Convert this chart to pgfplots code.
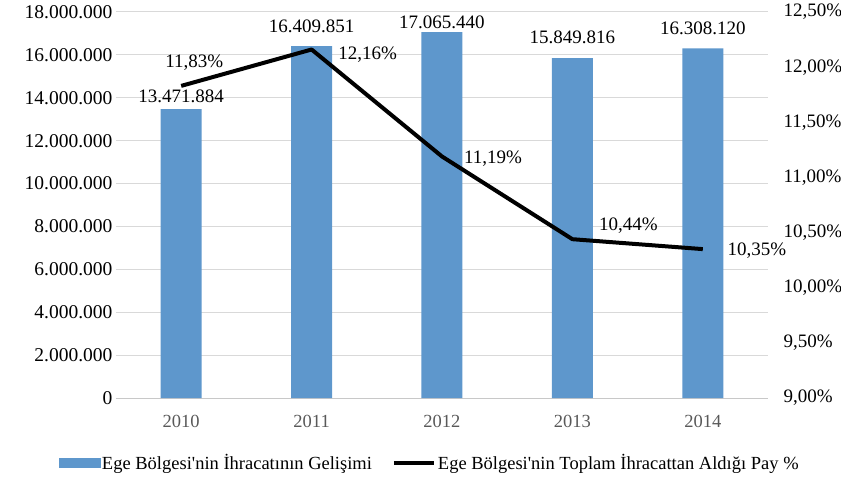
\documentclass[border=0pt]{standalone}
\usepackage{fontspec}
\setmainfont{Liberation Serif}[Ligatures=TeXOff]
\usepackage{pgfplots}
\pgfplotsset{compat=1.18}
\definecolor{barblue}{RGB}{94,151,204}
\definecolor{gridgray}{RGB}{217,217,217}
\definecolor{axisgray}{RGB}{200,200,200}
\definecolor{ticktext}{RGB}{89,89,89}
\newcommand{\lblfont}{\fontsize{19}{22}\selectfont}
\begin{document}
\begin{tikzpicture}
\begin{axis}[
  at={(0pt,0pt)}, anchor=south west,
  scale only axis, width=652pt, height=386pt,
  xmin=-0.5, xmax=4.5, ymin=0, ymax=18000000,
  xtick={0,1,2,3,4}, xticklabels={2010,2011,2012,2013,2014},
  ytick={0,2000000,4000000,6000000,8000000,10000000,12000000,14000000,16000000,18000000},
  yticklabels={0,2.000.000,4.000.000,6.000.000,8.000.000,10.000.000,12.000.000,14.000.000,16.000.000,18.000.000},
  scaled y ticks=false,
  axis lines*=left,
  y axis line style={draw=none},
  x axis line style={axisgray, line width=1pt},
  ymajorgrids, grid style={gridgray, line width=1pt},
  major tick length=0pt,
  yticklabel style={font=\fontsize{19.5}{22}\selectfont, xshift=0pt},
  xticklabel style={font=\fontsize{18.5}{20}\selectfont, text=ticktext, yshift=-14pt},
  clip=false,
]
\addplot[ybar, bar width=41pt, fill=barblue, draw=none] coordinates {
  (0,13471884) (1,16409851) (2,17065440) (3,15849816) (4,16308120)};
\node[font=\lblfont, yshift=13pt] at (axis cs:0,13471884) {13.471.884};
\node[font=\lblfont, yshift=20pt] at (axis cs:1,16409851) {16.409.851};
\node[font=\lblfont, yshift=10pt] at (axis cs:2,17065440) {17.065.440};
\node[font=\lblfont, yshift=21pt] at (axis cs:3,15849816) {15.849.816};
\node[font=\lblfont, yshift=20pt] at (axis cs:4,16308120) {16.308.120};
\end{axis}
\begin{axis}[
  at={(0pt,0pt)}, anchor=south west,
  scale only axis, width=652pt, height=386pt,
  xmin=-0.5, xmax=4.5, ymin=9, ymax=12.5,
  axis x line=none,
  axis y line*=right,
  y axis line style={draw=none},
  major tick length=0pt,
  ytick={9,9.5,10,10.5,11,11.5,12,12.5},
  yticklabels={{9,00\%},{9,50\%},{10,00\%},{10,50\%},{11,00\%},{11,50\%},{12,00\%},{12,50\%}},
  yticklabel style={font=\fontsize{19}{22}\selectfont, xshift=12pt},
  clip=false,
  legend columns=2,
  legend style={at={(0.481,-0.168)}, anchor=center, draw=none, fill=none,
    font=\fontsize{18.5}{22}\selectfont,
    /tikz/every even column/.append style={column sep=18pt},
    inner sep=0pt},
  legend cell align=left,
]
\addlegendimage{legend image code/.code={\fill[barblue] (-10pt,-4.5pt) rectangle (31pt,4.5pt);}}
\addlegendentry{Ege Bölgesi'nin İhracatının Gelişimi}
\addplot[black, line width=4pt, line join=round, mark=none,
  legend image code/.code={\draw[black, line width=4pt] (-10pt,0pt) -- (30pt,0pt);}]
  coordinates {(0,11.83) (1,12.16) (2,11.19) (3,10.44) (4,10.35)};
\addlegendentry{Ege Bölgesi'nin Toplam İhracattan Aldığı Pay \%}
\node[font=\lblfont, xshift=13pt, yshift=23pt] at (axis cs:0,11.83) {11,83\%};
\node[font=\lblfont, xshift=56pt, yshift=-5pt] at (axis cs:1,12.16) {12,16\%};
\node[font=\lblfont, xshift=51pt, yshift=-2pt] at (axis cs:2,11.19) {11,19\%};
\node[font=\lblfont, xshift=56pt, yshift=14pt] at (axis cs:3,10.44) {10,44\%};
\node[font=\lblfont, xshift=54pt, yshift=-2pt] at (axis cs:4,10.35) {10,35\%};
\end{axis}
\pgfresetboundingbox
\path (-116pt,-82pt) rectangle (725pt,398pt);
\end{tikzpicture}
\end{document}
